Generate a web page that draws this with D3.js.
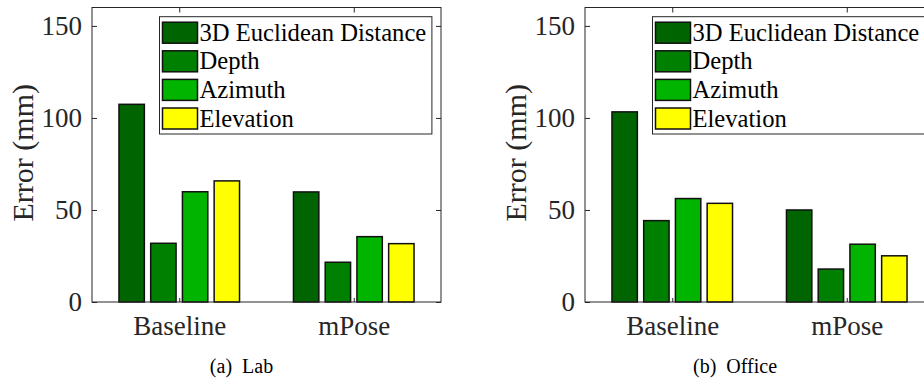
<!DOCTYPE html>
<html>
<head>
<meta charset="utf-8">
<script src="https://cdn.jsdelivr.net/npm/d3@7"></script>
<style>
body { margin: 0; background: #fff; }
svg { display: block; font-family: "Liberation Serif", "Times New Roman", serif; }
.axis text { fill: #262626; font-size: 27px; font-family: "Liberation Serif", "Times New Roman", serif; }
.axis line { stroke: #262626; }
</style>
</head>
<body>
<svg id="chart" width="924" height="379"></svg>
<script>
var groups = ["Baseline", "mPose"];
var series = ["3D Euclidean Distance", "Depth", "Azimuth", "Elevation"];
var seriesColors = ["#006400", "#008000", "#00b400", "#ffff00"];
var yTicks = [0, 50, 100, 150];

// one row per group, one value per series (mm)
var labValues = [
    [107.4, 31.9, 59.9, 65.8],
    [59.8, 21.6, 35.5, 31.7]
];
var officeValues = [
    [103.3, 44.2, 56.2, 53.6],
    [50.0, 17.9, 31.4, 25.1]
];

var svg = d3.select("#chart");

function drawPanel(left, values, caption, captionX)
{
    var margin = {top: 7.5, left: left},
        width = 349,
        height = 294.5;

    var g = svg.append("g")
        .attr("transform", "translate(" + margin.left + "," + margin.top + ")");

    var x = d3.scaleLinear().domain([0.5, 2.5]).range([0, width]);
    var y = d3.scaleLinear().domain([0, 160]).range([height, 0]);

    // matlab style grouped bar layout
    var n = series.length;
    var groupWidth = Math.min(0.8, n / (n + 1.5));
    var slot = groupWidth / n;
    var barW = slot * 0.8;

    var flat = [];
    values.forEach(function(row, gi){
        row.forEach(function(v, si){
            flat.push({g: gi + 1, s: si, v: v});
        });
    });

    g.selectAll(".bar")
      .data(flat)
      .enter().append("rect")
        .attr("class", "bar")
        .attr("x", function(d) { return x(d.g + (d.s - (n - 1) / 2) * slot - barW / 2); })
        .attr("width", function(d) { return x(barW) - x(0); })
        .attr("y", function(d) { return y(d.v); })
        .attr("height", function(d) { return y(0) - y(d.v); })
        .style("fill", function(d) { return seriesColors[d.s]; })
        .style("stroke", "#111")
        .style("stroke-width", 1.5);

    g.append("g")
        .attr("class", "axis")
        .call(d3.axisLeft(y).tickValues(yTicks).tickSize(-5).tickPadding(10))
        .call(function(s){ s.select(".domain").remove(); });

    g.append("g")
        .attr("class", "axis")
        .attr("transform", "translate(" + width + ",0)")
        .call(d3.axisRight(y).tickValues(yTicks).tickSize(-5).tickFormat(""))
        .call(function(s){ s.select(".domain").remove(); });

    g.append("g")
        .attr("class", "axis")
        .attr("transform", "translate(0," + height + ")")
        .call(d3.axisBottom(x).tickValues([1, 2]).tickSize(-4).tickPadding(14)
            .tickFormat(function(d) { return groups[d - 1]; }))
        .call(function(s){ s.select(".domain").remove(); });

    g.append("g")
        .attr("class", "axis")
        .call(d3.axisTop(x).tickValues([1, 2]).tickSize(-5).tickFormat(""))
        .call(function(s){ s.select(".domain").remove(); });

    g.append("rect")
        .attr("width", width)
        .attr("height", height)
        .style("fill", "none")
        .style("stroke", "#262626")
        .style("stroke-width", 1);

    g.append("text")
        .attr("transform", "translate(" + (-59) + "," + (height / 2 - 2) + ") rotate(-90)")
        .attr("text-anchor", "middle")
        .style("font-size", "30px")
        .style("fill", "#262626")
        .text("Error (mm)");

    // legend
    var lg = g.append("g")
        .attr("transform", "translate(67.5,9.2)");

    lg.append("rect")
        .attr("width", 272.4)
        .attr("height", 117.3)
        .style("fill", "#fff")
        .style("stroke", "#262626")
        .style("stroke-width", 1);

    var rows = lg.selectAll(".lrow")
      .data(series)
      .enter().append("g")
        .attr("class", "lrow")
        .attr("transform", function(d, i) { return "translate(3," + (16 + i * 28.6) + ")"; });

    rows.append("rect")
        .attr("y", -10.5)
        .attr("width", 35)
        .attr("height", 21)
        .style("fill", function(d, i) { return seriesColors[i]; })
        .style("stroke", "#111")
        .style("stroke-width", 1.5);

    rows.append("text")
        .attr("x", 37)
        .attr("y", 8)
        .style("font-size", "24.6px")
        .style("fill", "#000")
        .text(function(d) { return d; });

    svg.append("text")
        .attr("x", captionX)
        .attr("y", 373)
        .attr("text-anchor", "middle")
        .style("font-size", "20px")
        .style("white-space", "pre")
        .style("fill", "#000")
        .text(caption);
}

drawPanel(92, labValues, "(a)  Lab", 241.5);
drawPanel(585, officeValues, "(b)  Office", 735);
</script>
</body>
</html>
